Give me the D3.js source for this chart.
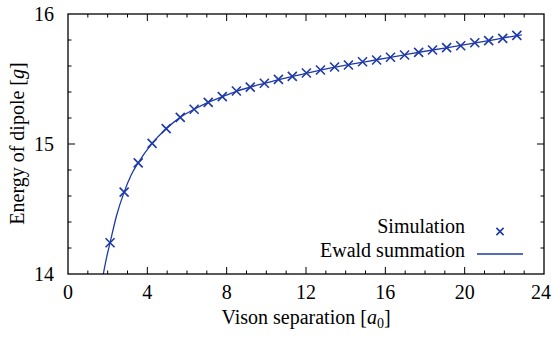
<!DOCTYPE html>
<html><head><meta charset="utf-8">
<script src="https://cdn.jsdelivr.net/npm/d3@7"></script>
<style>body{margin:0;background:#fff}svg{display:block}</style>
</head><body><svg id="c" width="552" height="337"></svg>
<script>
// Simulation: x = k/sqrt(2) lattice separations
const simX = [2.12,2.83,3.54,4.24,4.95,5.66,6.36,7.07,7.78,8.49,9.19,9.90,10.61,11.31,12.02,12.73,13.44,14.14,14.85,15.56,16.26,16.97,17.68,18.38,19.09,19.80,20.51,21.21,21.92,22.63];
const simY = [14.24,14.63,14.855,15.005,15.118,15.205,15.267,15.32,15.364,15.408,15.438,15.467,15.497,15.52,15.546,15.569,15.592,15.608,15.633,15.646,15.667,15.685,15.705,15.723,15.741,15.756,15.779,15.795,15.813,15.836];
// Ewald summation curve
const ewaldX = [1.78,1.95,2.12,2.45,2.83,3.18,3.54,4.24,4.95,5.66,6.36,7.07,7.78,8.49,9.90,11.31,12.73,14.14,15.56,16.97,18.38,19.80,21.21,22.63,22.88];
const ewaldY = [14.0,14.13,14.24,14.45,14.63,14.76,14.855,15.005,15.118,15.205,15.267,15.32,15.364,15.405,15.467,15.52,15.569,15.61,15.648,15.686,15.723,15.758,15.795,15.834,15.84];
const xTicks = [0,4,8,12,16,20,24];
const yTicks = [14,15,16];
const xLabel = "Vison separation";
const yLabel = "Energy of dipole";
const legendNames = ["Simulation","Ewald summation"];

const col = "#1f3aa6";
const FS = 20;
const FF = "Liberation Serif";
const svg = d3.select("#c");
const L=68,R=544,T=14,B=274;
const x = d3.scaleLinear().domain([0,24]).range([L,R]);
const y = d3.scaleLinear().domain([14,16]).range([B,T]);

function txt(sel){ return sel.append("text").attr("font-family",FF).attr("font-size",FS).attr("fill","#000"); }

svg.append("defs").append("clipPath").attr("id","clip").append("rect")
  .attr("x",L).attr("y",T).attr("width",R-L).attr("height",B-T);

// ticks (inward, mirrored)
const g = svg.append("g").attr("stroke","#000").attr("stroke-width",1);
d3.range(0,25,1).forEach(v=>{
  const len = (v%4===0)?7:3.5;
  if(v===0||v===24) return;
  g.append("line").attr("x1",x(v)).attr("x2",x(v)).attr("y1",B).attr("y2",B-len);
  g.append("line").attr("x1",x(v)).attr("x2",x(v)).attr("y1",T).attr("y2",T+len);
});
d3.range(0,11).map(i=>14+i*0.2).forEach((v,i)=>{
  if(i===0||i===10) return;
  const len = (i%5===0)?7:3.5;
  g.append("line").attr("x1",L).attr("x2",L+len).attr("y1",y(v)).attr("y2",y(v));
  g.append("line").attr("x1",R).attr("x2",R-len).attr("y1",y(v)).attr("y2",y(v));
});

// curve
const line = d3.line().x((d,i)=>x(ewaldX[i])).y((d,i)=>y(ewaldY[i])).curve(d3.curveMonotoneX);
svg.append("path").attr("clip-path","url(#clip)").attr("d",line(ewaldX))
  .attr("fill","none").attr("stroke",col).attr("stroke-width",1.3);

// markers
function cross(sel,cx,cy,s){
  sel.append("path").attr("d",`M${cx-s},${cy-s}L${cx+s},${cy+s}M${cx-s},${cy+s}L${cx+s},${cy-s}`)
    .attr("stroke",col).attr("stroke-width",1.6).attr("fill","none");
}
const mg = svg.append("g");
simX.forEach((v,i)=>cross(mg,x(v),y(simY[i]),4.5));

// frame
svg.append("rect").attr("x",L).attr("y",T).attr("width",R-L).attr("height",B-T)
  .attr("fill","none").attr("stroke","#000").attr("stroke-width",1.3);

// tick labels
xTicks.forEach(d=>txt(svg).attr("x",Math.min(x(d),541)).attr("y",298.5).attr("text-anchor","middle").text(d));
yTicks.forEach(d=>txt(svg).attr("x",54).attr("y",y(d)+6.5).attr("text-anchor","end").text(d));

// axis labels
const xl = txt(svg).attr("x",306).attr("y",323.5).attr("text-anchor","middle");
xl.append("tspan").text(xLabel+" [");
xl.append("tspan").attr("font-style","italic").text("a");
xl.append("tspan").attr("font-size",14).attr("dy",4).text("0");
xl.append("tspan").attr("dy",-4).text("]");

const yl = txt(svg).attr("transform","translate(24,143.5) rotate(-90)").attr("text-anchor","middle");
yl.append("tspan").text(yLabel+" [");
yl.append("tspan").attr("font-style","italic").text("g");
yl.append("tspan").text("]");

// legend
txt(svg).attr("x",465).attr("y",233.3).attr("text-anchor","end").text(legendNames[0]);
txt(svg).attr("x",465).attr("y",256.7).attr("text-anchor","end").text(legendNames[1]);
cross(svg,500,231.5,3.6);
svg.append("line").attr("x1",477).attr("x2",523).attr("y1",254).attr("y2",254).attr("stroke",col).attr("stroke-width",1.3);
</script></body></html>
